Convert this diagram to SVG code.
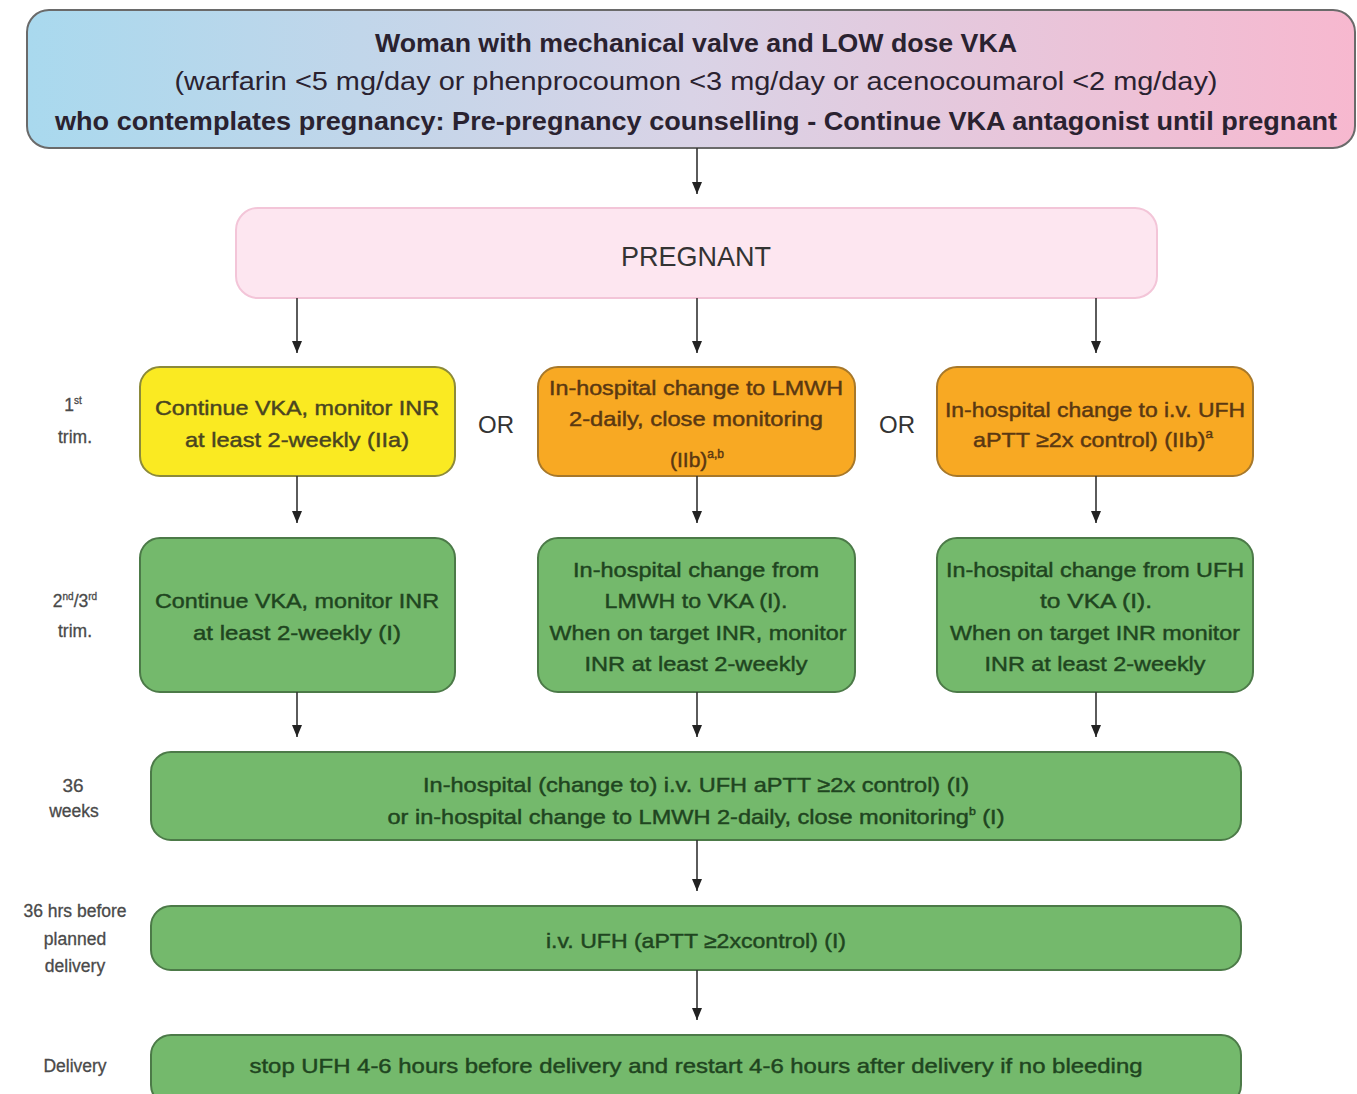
<svg xmlns="http://www.w3.org/2000/svg" width="1357" height="1094" viewBox="0 0 1357 1094">
<defs>
<linearGradient id="topGrad" x1="0" y1="0" x2="1" y2="0">
<stop offset="0" stop-color="#a9d9ee"/>
<stop offset="0.5" stop-color="#d9d3e6"/>
<stop offset="1" stop-color="#f7b8cf"/>
</linearGradient>
<marker id="arr" viewBox="0 0 12 10" refX="12" refY="5" markerWidth="12" markerHeight="10" markerUnits="userSpaceOnUse" orient="auto">
<path d="M0,0 L12,5 L0,10 Z" fill="#222"/>
</marker>
</defs>
<style>
text{font-family:"Liberation Sans","DejaVu Sans",sans-serif;text-anchor:middle;}
.top{fill:#2a2230;font-size:26px;}
.b{font-weight:bold;}
.yel{fill:#faea22;stroke:#8c8a3a;stroke-width:2;}
.org{fill:#f8a923;stroke:#a7782a;stroke-width:2;}
.grn{fill:#74b96c;stroke:#4c7a48;stroke-width:2;}
.ty{fill:#4a4520;stroke:#4a4520;stroke-width:0.45;font-size:21px;}
.to{fill:#5a3812;stroke:#5a3812;stroke-width:0.45;font-size:21px;}
.tg{fill:#1f4520;stroke:#1f4520;stroke-width:0.45;font-size:21px;}
.lab{fill:#4a4a4a;stroke:#4a4a4a;stroke-width:0.3;font-size:17.5px;}
.or{fill:#333;font-size:24px;}
.conn line{stroke:#333;stroke-width:1.6;marker-end:url(#arr);}
</style>
<rect width="1357" height="1094" fill="#ffffff"/>

<g id="top">
<rect x="27" y="10" width="1328" height="138" rx="22" fill="url(#topGrad)" stroke="#6a6a6a" stroke-width="2"/>
<text class="top b" x="696" y="52" textLength="642" lengthAdjust="spacingAndGlyphs">Woman with mechanical valve and LOW dose VKA</text>
<text class="top" x="696" y="90" textLength="1043" lengthAdjust="spacingAndGlyphs">(warfarin &lt;5 mg/day or  phenprocoumon &lt;3 mg/day or acenocoumarol &lt;2 mg/day)</text>
<text class="top b" x="696" y="130" textLength="1282" lengthAdjust="spacingAndGlyphs">who contemplates pregnancy: Pre-pregnancy counselling - Continue VKA antagonist until pregnant</text>
</g>

<g id="pregnant">
<rect x="236" y="208" width="921" height="90" rx="22" fill="#fde6f0" stroke="#f3c5d8" stroke-width="2"/>
<text x="696" y="266" style="fill:#333;font-size:28px;" textLength="150" lengthAdjust="spacingAndGlyphs">PREGNANT</text>
</g>

<g id="labels">
<text class="lab" x="73" y="411">1<tspan font-size="10" dy="-7">st</tspan></text>
<text class="lab" x="75" y="443">trim.</text>
<text class="lab" x="75" y="607">2<tspan font-size="10" dy="-7">nd</tspan><tspan dy="7">/3</tspan><tspan font-size="10" dy="-7">rd</tspan></text>
<text class="lab" x="75" y="637">trim.</text>
<text class="lab" x="73" y="792" style="font-size:19px">36</text>
<text class="lab" x="74" y="817">weeks</text>
<text class="lab" x="75" y="917">36 hrs before</text>
<text class="lab" x="75" y="945">planned</text>
<text class="lab" x="75" y="972">delivery</text>
<text class="lab" x="75" y="1072">Delivery</text>
<text class="or" x="496" y="433">OR</text>
<text class="or" x="897" y="433">OR</text>
</g>

<g id="t1-vka">
<rect class="yel" x="140" y="367" width="315" height="109" rx="20"/>
<text class="ty" x="297" y="415" textLength="284" lengthAdjust="spacingAndGlyphs">Continue VKA, monitor INR</text>
<text class="ty" x="297" y="447" textLength="224" lengthAdjust="spacingAndGlyphs">at least 2-weekly (IIa)</text>
</g>

<g id="t1-lmwh">
<rect class="org" x="538" y="367" width="317" height="109" rx="20"/>
<text class="to" x="696" y="395" textLength="294" lengthAdjust="spacingAndGlyphs">In-hospital change to LMWH</text>
<text class="to" x="696" y="426" textLength="254" lengthAdjust="spacingAndGlyphs">2-daily, close monitoring</text>
<text class="to" x="697" y="467">(IIb)<tspan font-size="12" dy="-9">a,b</tspan></text>
</g>

<g id="t1-ufh">
<rect class="org" x="937" y="367" width="316" height="109" rx="20"/>
<text class="to" x="1095" y="417" textLength="300" lengthAdjust="spacingAndGlyphs">In-hospital change to i.v. UFH</text>
<text class="to" x="1093" y="447" textLength="240" lengthAdjust="spacingAndGlyphs">aPTT ≥2x control) (IIb)<tspan font-size="12" dy="-9">a</tspan></text>
</g>

<g id="t2-vka">
<rect class="grn" x="140" y="538" width="315" height="154" rx="20"/>
<text class="tg" x="297" y="608" textLength="284" lengthAdjust="spacingAndGlyphs">Continue VKA, monitor INR</text>
<text class="tg" x="297" y="640" textLength="208" lengthAdjust="spacingAndGlyphs">at least 2-weekly (I)</text>
</g>

<g id="t2-lmwh">
<rect class="grn" x="538" y="538" width="317" height="154" rx="20"/>
<text class="tg" x="696" y="577" textLength="246" lengthAdjust="spacingAndGlyphs">In-hospital change from</text>
<text class="tg" x="696" y="608" textLength="183" lengthAdjust="spacingAndGlyphs">LMWH to VKA (I).</text>
<text class="tg" x="698" y="640" textLength="297" lengthAdjust="spacingAndGlyphs">When on target INR, monitor</text>
<text class="tg" x="696" y="671" textLength="223" lengthAdjust="spacingAndGlyphs">INR at least 2-weekly</text>
</g>

<g id="t2-ufh">
<rect class="grn" x="937" y="538" width="316" height="154" rx="20"/>
<text class="tg" x="1095" y="577" textLength="298" lengthAdjust="spacingAndGlyphs">In-hospital change from UFH</text>
<text class="tg" x="1096" y="608" textLength="112" lengthAdjust="spacingAndGlyphs">to VKA (I).</text>
<text class="tg" x="1095" y="640" textLength="290" lengthAdjust="spacingAndGlyphs">When on target INR monitor</text>
<text class="tg" x="1095" y="671" textLength="221" lengthAdjust="spacingAndGlyphs">INR at least 2-weekly</text>
</g>

<g id="w36">
<rect class="grn" x="151" y="752" width="1090" height="88" rx="20"/>
<text class="tg" x="696" y="792" textLength="546" lengthAdjust="spacingAndGlyphs">In-hospital (change to)  i.v. UFH aPTT ≥2x control) (I)</text>
<text class="tg" x="696" y="824" textLength="617" lengthAdjust="spacingAndGlyphs">or in-hospital change to LMWH 2-daily, close monitoring<tspan font-size="11" dy="-9">b</tspan><tspan dy="9"> (I)</tspan></text>
</g>

<g id="h36">
<rect class="grn" x="151" y="906" width="1090" height="64" rx="20"/>
<text class="tg" x="696" y="948" textLength="300" lengthAdjust="spacingAndGlyphs">i.v. UFH (aPTT ≥2xcontrol) (I)</text>
</g>

<g id="delivery">
<rect class="grn" x="151" y="1035" width="1090" height="70" rx="20"/>
<text class="tg" x="696" y="1073" textLength="893" lengthAdjust="spacingAndGlyphs">stop UFH 4-6 hours before delivery and restart 4-6 hours after delivery if no bleeding</text>
</g>

<g class="conn" id="connectors">
<line x1="697" y1="148" x2="697" y2="194"/>
<line x1="297" y1="298" x2="297" y2="353"/>
<line x1="697" y1="298" x2="697" y2="353"/>
<line x1="1096" y1="298" x2="1096" y2="353"/>
<line x1="297" y1="476" x2="297" y2="523"/>
<line x1="697" y1="476" x2="697" y2="523"/>
<line x1="1096" y1="476" x2="1096" y2="523"/>
<line x1="297" y1="692" x2="297" y2="737"/>
<line x1="697" y1="692" x2="697" y2="737"/>
<line x1="1096" y1="692" x2="1096" y2="737"/>
<line x1="697" y1="840" x2="697" y2="891"/>
<line x1="697" y1="970" x2="697" y2="1020"/>
</g>
</svg>
